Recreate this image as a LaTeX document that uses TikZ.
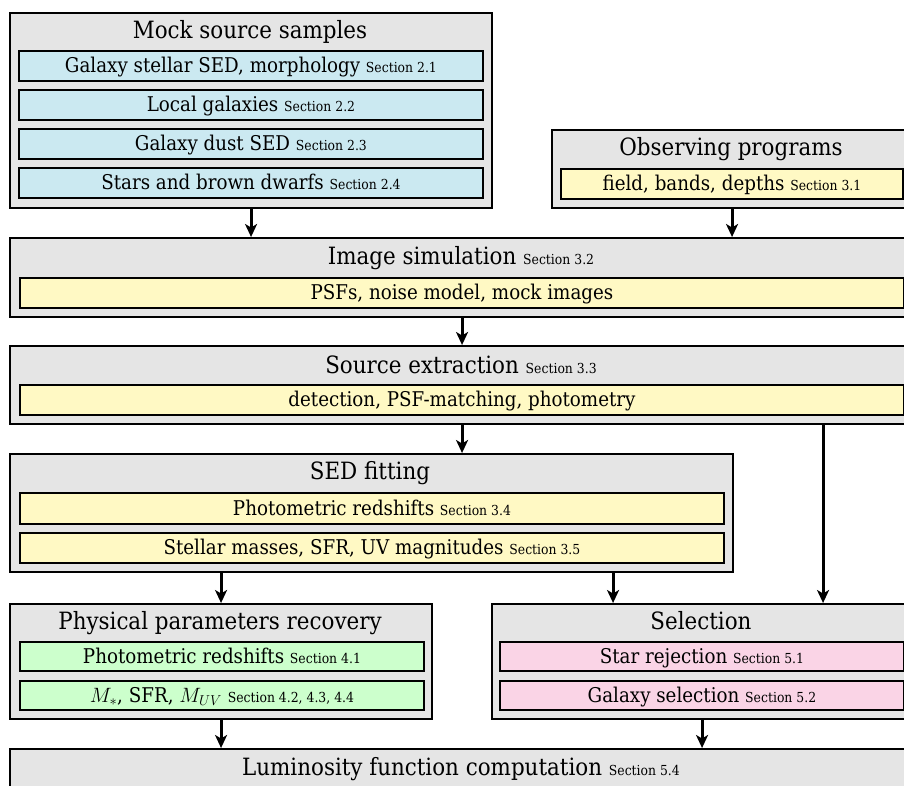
\documentclass[tikz,border=0pt]{standalone}
\usepackage{fontspec}
\setmainfont{DejaVu Serif}[FakeStretch=0.9]
\usetikzlibrary{arrows.meta}
\definecolor{boxgray}{RGB}{229,229,229}
\definecolor{sblue}{RGB}{203,233,241}
\definecolor{syellow}{RGB}{255,249,196}
\definecolor{sgreen}{RGB}{204,255,204}
\definecolor{spink}{RGB}{250,212,230}
\newcommand{\secref}[1]{{\fontsize{13.8}{15}\selectfont #1}}
\begin{document}
\begin{tikzpicture}[x=1pt,y=-1pt,
 outer/.style={draw=black, line width=2.1pt, fill=boxgray, anchor=north west, inner sep=0pt},
 inbox/.style={draw=black, line width=1.9pt, anchor=north west, inner sep=0pt, minimum height=30pt, text height=18pt, text depth=4pt, font=\fontsize{20.3}{23}\selectfont},
 ttl/.style={font=\fontsize{23.8}{27}\selectfont, inner sep=0pt, text height=19pt, text depth=5pt},
 arr/.style={-{Stealth[length=13pt,width=12pt,inset=3.5pt]}, line width=3pt}]
\useasboundingbox (0,0) rectangle (904,785);
% Mock source samples
\node[outer, minimum width=482pt, minimum height=195pt] (mock) at (9,12) {};
\node[ttl] (mockt) at (250,31) {Mock source samples};
\node[inbox, fill=sblue, minimum width=464pt] (g1) at (18,50) {Galaxy stellar SED, morphology \secref{Section 2.1}};
\node[inbox, fill=sblue, minimum width=464pt] (g2) at (18,89) {Local galaxies \secref{Section 2.2}};
\node[inbox, fill=sblue, minimum width=464pt] (g3) at (18,128) {Galaxy dust SED \secref{Section 2.3}};
\node[inbox, fill=sblue, minimum width=464pt] (g4) at (18,167) {Stars and brown dwarfs \secref{Section 2.4}};
% Observing programs
\node[outer, minimum width=360pt, minimum height=78pt] (obs) at (551,129) {};
\node[ttl] (obst) at (731,148) {Observing programs};
\node[inbox, fill=syellow, minimum width=342pt] (obs1) at (560,168) {field, bands, depths \secref{Section 3.1}};
% Image simulation
\node[outer, minimum width=904pt, minimum height=79pt] (img) at (9,237) {};
\node[ttl] (imgt) at (461,257) {Image simulation \secref{Section 3.2}};
\node[inbox, fill=syellow, minimum width=884pt] (img1) at (19,277) {PSFs, noise model, mock images};
% Source extraction
\node[outer, minimum width=904pt, minimum height=78pt] (src) at (9,345) {};
\node[ttl] (srct) at (461,366) {Source extraction \secref{Section 3.3}};
\node[inbox, fill=syellow, minimum width=884pt] (src1) at (19,384) {detection, PSF-matching, photometry};
% SED fitting
\node[outer, minimum width=723pt, minimum height=118pt] (sed) at (9,453) {};
\node[ttl] (sedt) at (370,472) {SED fitting};
\node[inbox, fill=syellow, minimum width=704pt, minimum height=31pt] (sed1) at (19,492) {Photometric redshifts \secref{Section 3.4}};
\node[inbox, fill=syellow, minimum width=704pt] (sed2) at (19,532) {Stellar masses, SFR, UV magnitudes \secref{Section 3.5}};
% Physical parameters recovery
\node[outer, minimum width=422pt, minimum height=115pt] (phys) at (9,603) {};
\node[ttl] (physt) at (220,622) {Physical parameters recovery};
\node[inbox, fill=sgreen, minimum width=404pt, minimum height=29pt] (phys1) at (19,641) {Photometric redshifts \secref{Section 4.1}};
\node[inbox, fill=sgreen, minimum width=404pt, minimum height=29pt] (phys2) at (19,680) {$M_*$, SFR, $M_{UV}$ \secref{Section 4.2, 4.3, 4.4}};
% Selection
\node[outer, minimum width=420pt, minimum height=115pt] (sel) at (491,603) {};
\node[ttl] (selt) at (701,622) {Selection};
\node[inbox, fill=spink, minimum width=404pt, minimum height=29pt] (sel1) at (499,641) {Star rejection \secref{Section 5.1}};
\node[inbox, fill=spink, minimum width=404pt, minimum height=29pt] (sel2) at (499,680) {Galaxy selection \secref{Section 5.2}};
% Luminosity function
\node[outer, minimum width=904pt, minimum height=60pt] (lum) at (9,748) {};
\node[ttl] (lumt) at (461,768) {Luminosity function computation \secref{Section 5.4}};
% Arrows
\draw[arr] (mock.south) -- (mock.south |- img.north);
\draw[arr] (obs.south) -- (obs.south |- img.north);
\draw[arr] (img.south) -- (src.north);
\draw[arr] (src.south) -- (src.south |- sed.north);
\draw[arr] ([xshift=361pt]src.south) -- ([xshift=361pt]src.south |- sel.north);
\draw[arr] (phys.north |- sed.south) -- (phys.north);
\draw[arr] ([xshift=241.5pt]sed.south) -- ([xshift=241.5pt]sed.south |- sel.north);
\draw[arr] (phys.south) -- (phys.south |- lum.north);
\draw[arr] (sel.south) -- (sel.south |- lum.north);
\end{tikzpicture}
\end{document}
